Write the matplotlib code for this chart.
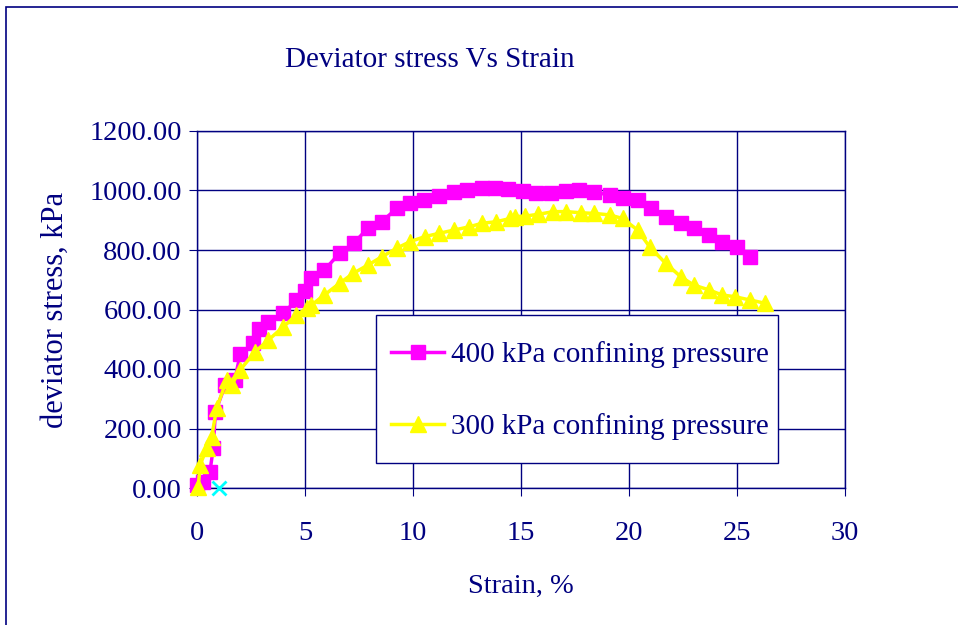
import matplotlib
matplotlib.use("Agg")
import matplotlib.pyplot as plt
from matplotlib.patches import Rectangle

# Datos --------------------------------------------------------------------
strain_400 = [0.0, 0.3, 0.6, 0.75, 0.85, 1.3, 1.75, 2.0, 2.6, 2.85, 3.3, 4.0, 4.6,
              5.0, 5.3, 5.9, 6.6, 7.25, 7.9, 8.55, 9.25, 9.85, 10.5, 11.2, 11.9,
              12.5, 13.2, 13.8, 14.4, 15.1, 15.7, 16.4, 17.1, 17.7, 18.4, 19.1,
              19.7, 20.4, 21.0, 21.7, 22.4, 23.0, 23.7, 24.3, 25.0, 25.6]
stress_400 = [10, 20, 55, 133, 255, 345, 363, 450, 486, 535, 559, 587, 632,
              662, 707, 733, 789, 822, 873, 895, 940, 957, 968, 981, 996,
              1002, 1007, 1007, 1005, 999, 990, 990, 997, 1000, 994, 985,
              974, 968, 942, 912, 890, 873, 850, 828, 811, 777]

strain_300 = [0.06, 0.14, 0.45, 0.68, 0.91, 1.37, 1.6, 2.0, 2.69, 3.3, 4.0, 4.6,
              5.08, 5.3, 5.9, 6.6, 7.24, 7.93, 8.55, 9.25, 9.86, 10.55, 11.2,
              11.9, 12.6, 13.2, 13.85, 14.5, 14.7, 15.2, 15.8, 16.5, 17.1, 17.8,
              18.4, 19.1, 19.7, 20.4, 20.95, 21.7, 22.4, 23.0, 23.7, 24.3, 24.9,
              25.6, 26.3]
stress_300 = [4, 77, 133, 172, 268, 363, 346, 397, 458, 497, 542, 581,
              604, 615, 649, 688, 722, 750, 777, 806, 828, 845, 856,
              867, 878, 890, 895, 906, 912, 914, 920, 929, 929, 925,
              923, 918, 906, 867, 811, 755, 710, 682, 666, 649, 643,
              632, 621]

strain_extra = [1.0]
stress_extra = [0.0]

x_ticks = [0, 5, 10, 15, 20, 25, 30]
y_ticks = [0, 200, 400, 600, 800, 1000, 1200]

navy = "#000080"
plt.rcParams['font.family'] = ['Liberation Serif', 'DejaVu Serif']

# Gráfica ------------------------------------------------------------------
fig = plt.figure(figsize=(9.58, 6.25), dpi=100)
ax = fig.add_axes([197/958, 1-488/625, 648/958, 357/625])

ax.plot(strain_400, stress_400, color="#FF00FF", marker="s", markersize=10,
        linewidth=2.5, label="400 kPa confining pressure", zorder=3, clip_on=False)
ax.plot(strain_300, stress_300, color="#FFFF00", marker="^", markersize=11,
        linewidth=2.5, label="300 kPa confining pressure", zorder=4, clip_on=False)
ax.plot(strain_extra, stress_extra, color="#00FFFF", marker="x", markersize=10,
        markeredgewidth=2, linestyle="none", zorder=5, clip_on=False)

ax.set_xlim(0, 30)
ax.set_ylim(0, 1200)
ax.set_xticks(x_ticks)
ax.set_yticks(y_ticks)
ax.set_yticklabels(["%.2f" % v for v in y_ticks])
ax.grid(True, color=navy, linewidth=1)
ax.set_axisbelow(True)
for s in ax.spines.values():
    s.set_color(navy)
    s.set_linewidth(1)
ax.tick_params(colors=navy, labelsize=20.5, length=6, direction="out")
ax.tick_params(axis="x", pad=18)
ax.tick_params(axis="y", pad=5)

ax.set_xlabel("Strain, %", color=navy, fontsize=20.5, labelpad=20)
ax.set_ylabel("deviator stress, kPa", color=navy, fontsize=22, labelpad=14)
fig.text(430/958, 1-60/625, "Deviator stress Vs Strain", color=navy,
         fontsize=21, ha="center", va="center")

# Caja de la leyenda dibujada aparte para fijar su tamaño
ax.add_patch(Rectangle((0.276, 0.070), 0.621, 0.415, transform=ax.transAxes,
                       facecolor="white", edgecolor=navy, linewidth=1, zorder=6))
leg = ax.legend(loc="center left", bbox_to_anchor=(0.300, 0.272),
                fontsize=21, labelcolor=navy, frameon=False, labelspacing=1.55,
                handlelength=1.8, handletextpad=0.25, borderpad=0,
                borderaxespad=0)
leg.set_zorder(7)

# Marco exterior del gráfico
fig.patches.append(Rectangle((6/958, -0.1), 1.2, 1.1 - 7/625,
                             transform=fig.transFigure, fill=False,
                             edgecolor=navy, linewidth=1.2))

fig.savefig("out.png", dpi=100)
